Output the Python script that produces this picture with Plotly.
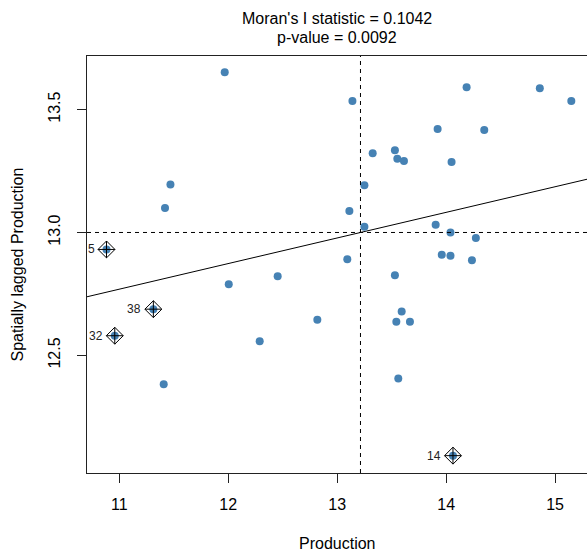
import plotly.graph_objects as go

# ---- data ----
production = [11.968, 11.47, 11.42, 10.883, 13.14, 14.188, 14.86, 15.149, 13.922, 14.35,
              13.326, 13.53, 13.552, 13.613, 14.05, 13.25, 13.112, 13.25, 13.904, 14.04,
              14.273, 13.093, 13.96, 14.04, 14.237, 12.005, 12.454, 12.818, 12.289, 11.408,
              11.313, 10.959, 13.53, 13.592, 13.543, 13.668, 13.561, 14.063]
lagged = [13.652, 13.195, 13.10, 12.931, 13.535, 13.591, 13.587, 13.535, 13.421, 13.417,
          13.322, 13.335, 13.30, 13.291, 13.287, 13.192, 13.087, 13.023, 13.031, 13.00,
          12.978, 12.891, 12.909, 12.905, 12.887, 12.789, 12.822, 12.645, 12.558, 12.383,
          12.688, 12.580, 12.826, 12.679, 12.637, 12.637, 12.406, 12.092]
influential_idx = [3, 30, 31, 37]
influential_labels = ["5", "38", "32", "14"]

moran_I = 0.1042
p_value = 0.0092
x_mean = 13.214
wx_mean = 13.0

x_ticks = [11, 12, 13, 14, 15]
y_ticks = [12.5, 13.0, 13.5]
y_ticklabels = ["12.5", "13.0", "13.5"]
x_range = [10.704, 15.293]
y_range = [12.0215, 13.718]

FONT = "Liberation Sans, Arial, sans-serif"

fig = go.Figure()

# regression line (slope = Moran's I, through the means)
fig.add_trace(go.Scatter(
    x=x_range,
    y=[wx_mean + moran_I * (v - x_mean) for v in x_range],
    mode="lines", line=dict(color="black", width=1), hoverinfo="skip", showlegend=False,
))

# points
fig.add_trace(go.Scatter(
    x=production, y=lagged, mode="markers",
    marker=dict(color="#4682B4", size=8, line=dict(width=0)),
    showlegend=False,
))

# influential points
fig.add_trace(go.Scatter(
    x=[production[i] for i in influential_idx],
    y=[lagged[i] for i in influential_idx],
    mode="markers",
    marker=dict(symbol="diamond-cross-open", color="black", size=13, line=dict(width=1, color="black")),
    showlegend=False,
))

for i, lab in zip(influential_idx, influential_labels):
    fig.add_annotation(x=production[i], y=lagged[i], text=lab, showarrow=False,
                       xanchor="right", xshift=-10, yanchor="middle",
                       font=dict(family=FONT, size=12, color="#222"))

# mean lines
fig.add_shape(type="line", xref="x", yref="paper", x0=x_mean, x1=x_mean, y0=0, y1=1,
              line=dict(color="black", width=1, dash="4px,4px"))
fig.add_shape(type="line", xref="paper", yref="y", x0=0, x1=1, y0=wx_mean, y1=wx_mean,
              line=dict(color="black", width=1, dash="4px,4px"))

# title lines
fig.add_annotation(xref="paper", yref="paper", x=0.5, y=1, yanchor="middle", yshift=38,
                   text=f"Moran's I statistic = {moran_I:.4f}", showarrow=False,
                   font=dict(family=FONT, size=16, color="black"))
fig.add_annotation(xref="paper", yref="paper", x=0.5, y=1, yanchor="middle", yshift=19,
                   text=f"p-value = {p_value:.4f}", showarrow=False,
                   font=dict(family=FONT, size=16, color="black"))

# axis titles
fig.add_annotation(xref="paper", yref="paper", x=0.5, y=0, yanchor="middle", yshift=-70,
                   text="Production", showarrow=False,
                   font=dict(family=FONT, size=16, color="black"))
fig.add_annotation(xref="paper", yref="paper", x=0, y=0.5, xanchor="center", xshift=-70,
                   text="Spatially lagged Production", textangle=-90, showarrow=False,
                   font=dict(family=FONT, size=16, color="black"))

fig.update_xaxes(range=x_range, tickvals=x_ticks, ticktext=[str(t) for t in x_ticks],
                 showgrid=False, zeroline=False, showline=True, mirror=True,
                 linecolor="#222", linewidth=1, ticks="outside", ticklen=9, tickcolor="#222",
                 ticklabelstandoff=8,
                 tickfont=dict(family=FONT, size=16, color="black"))
fig.update_yaxes(range=y_range, tickvals=y_ticks, ticktext=y_ticklabels, tickangle=-90,
                 showgrid=False, zeroline=False, showline=True, mirror=False,
                 linecolor="#222", linewidth=1, ticks="outside", ticklen=9, tickcolor="#222",
                 ticklabelstandoff=11,
                 tickfont=dict(family=FONT, size=16, color="black"))

fig.update_layout(width=587, height=553, margin=dict(l=87, r=0, t=56, b=80),
                  plot_bgcolor="white", paper_bgcolor="white", hovermode=False)

fig.write_html("out.html", config={"displayModeBar": False},
               post_script="document.body.style.margin='0';document.body.style.overflow='hidden';")
